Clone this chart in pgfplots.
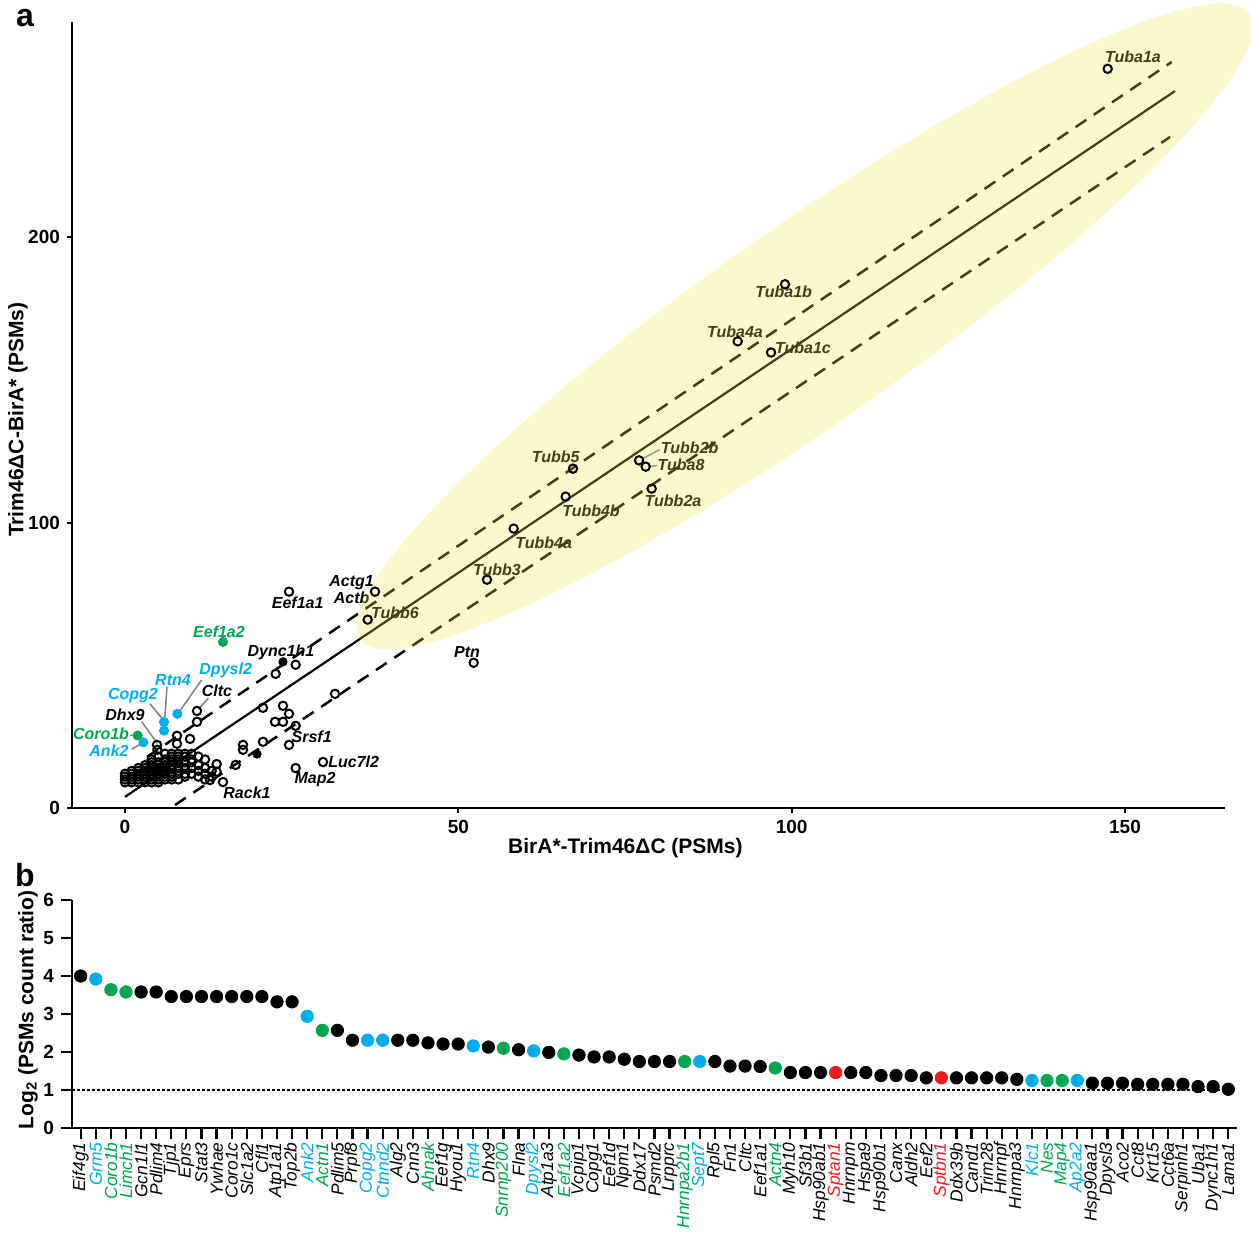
\documentclass[border=0pt]{standalone}
\usepackage{pgfplots}
\pgfplotsset{compat=1.18}
\usepackage{fontspec}
\setmainfont{Liberation Sans}
\definecolor{cblue}{RGB}{0,174,239}
\definecolor{cgreen}{RGB}{0,166,81}
\definecolor{cred}{RGB}{237,28,36}
\definecolor{ell}{RGB}{245,230,80}
\definecolor{lead}{RGB}{128,128,128}
\newcommand{\B}[1]{\textcolor{cblue}{#1}}
\newcommand{\G}[1]{\textcolor{cgreen}{#1}}
\newcommand{\R}[1]{\textcolor{cred}{#1}}

\pgfplotstableread{
x y
147.4 259.0
99.0 183.5
91.9 163.5
96.9 159.6
67.2 118.9
77.1 121.8
78.1 119.6
79.0 111.9
66.1 109.1
58.3 97.9
54.3 80.0
37.5 75.8
36.4 66.0
24.6 75.8
52.3 50.9
25.6 50.2
22.6 47.0
10.8 34.0
10.8 30.2
20.7 35.1
23.7 35.8
24.6 33.0
22.5 30.2
23.7 30.2
25.6 28.8
24.6 22.1
31.5 40.0
17.7 22.1
17.7 20.4
20.7 23.2
16.6 15.1
25.6 14.0
29.7 16.1
14.7 9.1
4.8 22.1
7.8 25.3
9.75 24.2
4.85 20.4
7.8 22.5
13.75 15.4
13.75 12.7
12.75 9.8
0 9
0 10
0 11
0 12
1 9
1 10
1 11
1 12
1 13
2 9
2 10
2 11
2 12
2 13
2 14
3 9
3 10
3 11
3 12
3 13
3 14
3 15
4 9
4 10
4 11
4 12
4 13
4 14
4 15
4 16
4 17
5 9
5 10
5 11
5 12
5 13
5 14
5 15
5 16
5 18
6 10
6 11
6 12
6 13
6 14
6 15
6 16
6 17
6 19
7 10
7 11
7 12
7 14
7 15
7 16
7 17
7 18
7 19
8 10
8 12
8 13
8 14
8 16
8 17
8 18
8 19
9 11
9 12
9 14
9 16
9 18
9 19
10 12
10 14
10 16
10 17
10 19
11 11
11 13
11 15
11 18
12 10
12 12
12 14
12 17
13 11
13 13
}\blackpts

\begin{document}
\begin{tikzpicture}
\path[use as bounding box] (0,0) rectangle (625.5pt,-617pt);
\node[font=\bfseries\fontsize{16}{19}\selectfont] at (12.5pt,-9pt) {a};
\node[font=\bfseries\fontsize{16}{19}\selectfont] at (12.5pt,-437.5pt) {b};

\begin{axis}[
  at={(36pt,-404pt)}, anchor=south west, scale only axis,
  width=576.5pt, height=393pt,
  xmin=-7.95, xmax=165, ymin=0, ymax=275.4,
  axis x line*=bottom, axis y line*=left,
  axis line style={line width=1.25pt,-},
  xtick={0,50,100,150}, ytick={0,100,200},
  tick align=outside, major tick length=2.5pt,
  tick style={line width=1pt,black},
  /pgf/number format/assume math mode=true,
  tick label style={font=\bfseries\fontsize{9.5}{11}\selectfont},
  xlabel={BirA*-Trim46ΔC (PSMs)}, ylabel={Trim46ΔC-BirA* (PSMs)},
  label style={font=\bfseries\fontsize{10.5}{12}\selectfont},
  xlabel style={at={(axis description cs:0.48,-0.051)}, anchor=center},
  ylabel style={at={(axis description cs:-0.0468,0.494)}, anchor=center},
  clip=false,
]
% regression line and bounds
\addplot[black, line width=1.1pt] coordinates {(0,3.9) (157.5,251.2)};
\addplot[black, line width=1.25pt, dash pattern=on 6.5pt off 4.5pt] coordinates {(3.3,17.9) (157,261.4)};
\addplot[black, line width=1.25pt, dash pattern=on 6.5pt off 4.5pt] coordinates {(7.5,1.05) (156.75,235.1)};
% points
\addplot[only marks, mark=o, mark size=2.1pt, mark options={line width=1pt, black}] table {\blackpts};
\addplot[only marks, mark=*, mark size=2.1pt, black] coordinates {(23.7,51.2) (19.8,18.9)};
\addplot[only marks, mark=*, mark size=2.3pt, cgreen] coordinates {(14.7,58.2) (1.9,25.4)};
\addplot[only marks, mark=*, mark size=2.3pt, cblue] coordinates {(5.85,30.1) (5.85,27.1) (7.85,33.0) (2.75,23.0)};
% leader lines
\draw[lead, line width=0.75pt] (axis cs:3.75,36.5) -- (axis cs:5.85,30.6);
\draw[lead, line width=0.75pt] (axis cs:6.3,42.5) -- (axis cs:5.95,30.8);
\draw[lead, line width=0.75pt] (axis cs:11.5,44.9) -- (axis cs:8.2,33.9);
\draw[lead, line width=0.75pt] (axis cs:12.5,38.5) -- (axis cs:11.0,34.6);
\draw[lead, line width=0.75pt] (axis cs:2.5,30.3) -- (axis cs:4.85,22.6);
\draw[lead, line width=0.75pt] (axis cs:0.75,25.5) -- (axis cs:1.6,25.4);
\draw[lead, line width=0.75pt] (axis cs:1.0,20.6) -- (axis cs:2.5,22.6);
\draw[lead, line width=0.75pt] (axis cs:77.6,122.3) -- (axis cs:80.2,125.6);
\draw[lead, line width=0.75pt] (axis cs:78.6,119.7) -- (axis cs:79.8,120.0);
% labels
\begin{scope}[every node/.style={font=\bfseries\itshape\fontsize{8}{9.6}\selectfont, inner sep=0pt}]
\node at (axis cs:151.2,263.2) {Tuba1a};
\node at (axis cs:98.8,180.7) {Tuba1b};
\node at (axis cs:91.5,167.0) {Tuba4a};
\node at (axis cs:101.7,161.4) {Tuba1c};
\node at (axis cs:64.6,123.2) {Tubb5};
\node at (axis cs:84.7,126.3) {Tubb2b};
\node at (axis cs:83.4,120.4) {Tuba8};
\node at (axis cs:82.2,107.7) {Tubb2a};
\node at (axis cs:69.9,104.2) {Tubb4b};
\node at (axis cs:62.8,93.0) {Tubb4a};
\node at (axis cs:55.8,83.5) {Tubb3};
\node at (axis cs:34.0,78.9) {Actg1};
\node at (axis cs:34.0,73.7) {Actb};
\node at (axis cs:40.5,68.4) {Tubb6};
\node at (axis cs:25.9,71.9) {Eef1a1};
\node at (axis cs:51.3,54.7) {Ptn};
\node[text=cgreen] at (axis cs:14.1,61.8) {Eef1a2};
\node at (axis cs:23.4,54.4) {Dync1h1};
\node[text=cblue] at (axis cs:15.1,48.4) {Dpysl2};
\node[text=cblue] at (axis cs:7.2,44.9) {Rtn4};
\node at (axis cs:13.8,41.1) {Cltc};
\node[text=cblue] at (axis cs:1.2,39.3) {Copg2};
\node at (axis cs:0,32.6) {Dhx9};
\node[text=cgreen] at (axis cs:-3.6,26.0) {Coro1b};
\node[text=cblue] at (axis cs:-2.4,20.0) {Ank2};
\node at (axis cs:28.0,24.9) {Srsf1};
\node at (axis cs:34.3,16.1) {Luc7l2};
\node at (axis cs:28.5,9.8) {Map2};
\node at (axis cs:18.3,5.3) {Rack1};
\end{scope}
% highlighted ellipse
\fill[ell, opacity=0.28, rotate around={35.1:(axis cs:102,168.8)}] (axis cs:102,168.8) ellipse [x radius=272pt, y radius=49pt];
\end{axis}

\begin{axis}[
  at={(36pt,-564pt)}, anchor=south west, scale only axis,
  width=582.5pt, height=114pt,
  xmin=0.424, xmax=77.58, ymin=0, ymax=6,
  axis x line*=bottom, axis y line*=left,
  axis line style={line width=1.25pt,-},
  tick align=outside, major tick length=5.5pt,
  tick style={line width=1.1pt,black},
  ytick={0,1,2,3,4,5,6},
  xtick={1,...,77},
  xticklabels={Eif4g1,\B{Grm5},\G{Coro1b},\G{Limch1},Gcn1l1,Pdlim4,Tjp1,Eprs,Stat3,Ywhae,Coro1c,Slc1a2,Cfl1,Atp1a1,Top2b,\B{Ank2},\G{Actn1},Pdlim5,Prpf8,\B{Copg2},\B{Ctnnd2},Alg2,Cnn3,\G{Ahnak},Eef1g,Hyou1,\B{Rtn4},Dhx9,\G{Snrnp200},Flna,\B{Dpysl2},Atp1a3,\G{Eef1a2},Vcpip1,Copg1,Eef1d,Npm1,Ddx17,Psmd2,Lrpprc,\G{Hnrnpa2b1},\B{Sept7},Rpl5,Fn1,Cltc,Eef1a1,\G{Actn4},Myh10,Sf3b1,Hsp90ab1,\R{Sptan1},Hnrnpm,Hspa9,Hsp90b1,Canx,Aldh2,Eef2,\R{Sptbn1},Ddx39b,Cand1,Trim28,Hnrnpf,Hnrnpa3,\B{Klc1},\G{Nes},\G{Map4},\B{Ap2a2},Hsp90aa1,Dpysl3,Aco2,Cct8,Krt15,Cct6a,Serpinh1,Uba1,Dync1h1,Lama1},
  /pgf/number format/assume math mode=true,
  x tick label style={rotate=90, anchor=east, font=\itshape\fontsize{8.7}{10}\selectfont, inner sep=1.5pt},
  y tick label style={font=\bfseries\fontsize{9.5}{11}\selectfont},
  ylabel={Log\textsubscript{2} (PSMs count ratio)},
  ylabel style={at={(axis description cs:-0.0378,0.518)}, anchor=center, font=\bfseries\fontsize{10.5}{12}\selectfont},
  clip=false,
]
\addplot[black, line width=1pt, dash pattern=on 1.5pt off 1pt] coordinates {(0.424,1) (77.58,1)};
\addplot[only marks, mark=*, mark size=3.1pt, black] coordinates {
(1,4.00) (5,3.58) (6,3.58) (7,3.46) (8,3.46) (9,3.46) (10,3.46) (11,3.46) (12,3.46) (13,3.46)
(14,3.32) (15,3.32) (18,2.57) (19,2.31) (22,2.31) (23,2.31) (24,2.24) (25,2.21) (26,2.21)
(28,2.13) (30,2.06) (32,1.99) (34,1.92) (35,1.87) (36,1.87) (37,1.81) (38,1.75) (39,1.75) (40,1.75)
(43,1.75) (44,1.63) (45,1.63) (46,1.62) (48,1.46) (49,1.46) (50,1.46) (52,1.46) (53,1.46)
(54,1.38) (55,1.38) (56,1.38) (57,1.32) (59,1.32) (60,1.32) (61,1.32) (62,1.32) (63,1.28)
(68,1.18) (69,1.18) (70,1.18) (71,1.15) (72,1.15) (73,1.15) (74,1.15) (75,1.09) (76,1.09) (77,1.02)};
\addplot[only marks, mark=*, mark size=3.1pt, cblue] coordinates {
(2,3.92) (16,2.94) (20,2.31) (21,2.31) (27,2.16) (31,2.03) (42,1.75) (64,1.25) (67,1.25)};
\addplot[only marks, mark=*, mark size=3.1pt, cgreen] coordinates {
(3,3.64) (4,3.58) (17,2.57) (29,2.10) (33,1.95) (41,1.75) (47,1.58) (65,1.25) (66,1.25)};
\addplot[only marks, mark=*, mark size=3.1pt, cred] coordinates {(51,1.46) (58,1.32)};
\end{axis}
\end{tikzpicture}
\end{document}
